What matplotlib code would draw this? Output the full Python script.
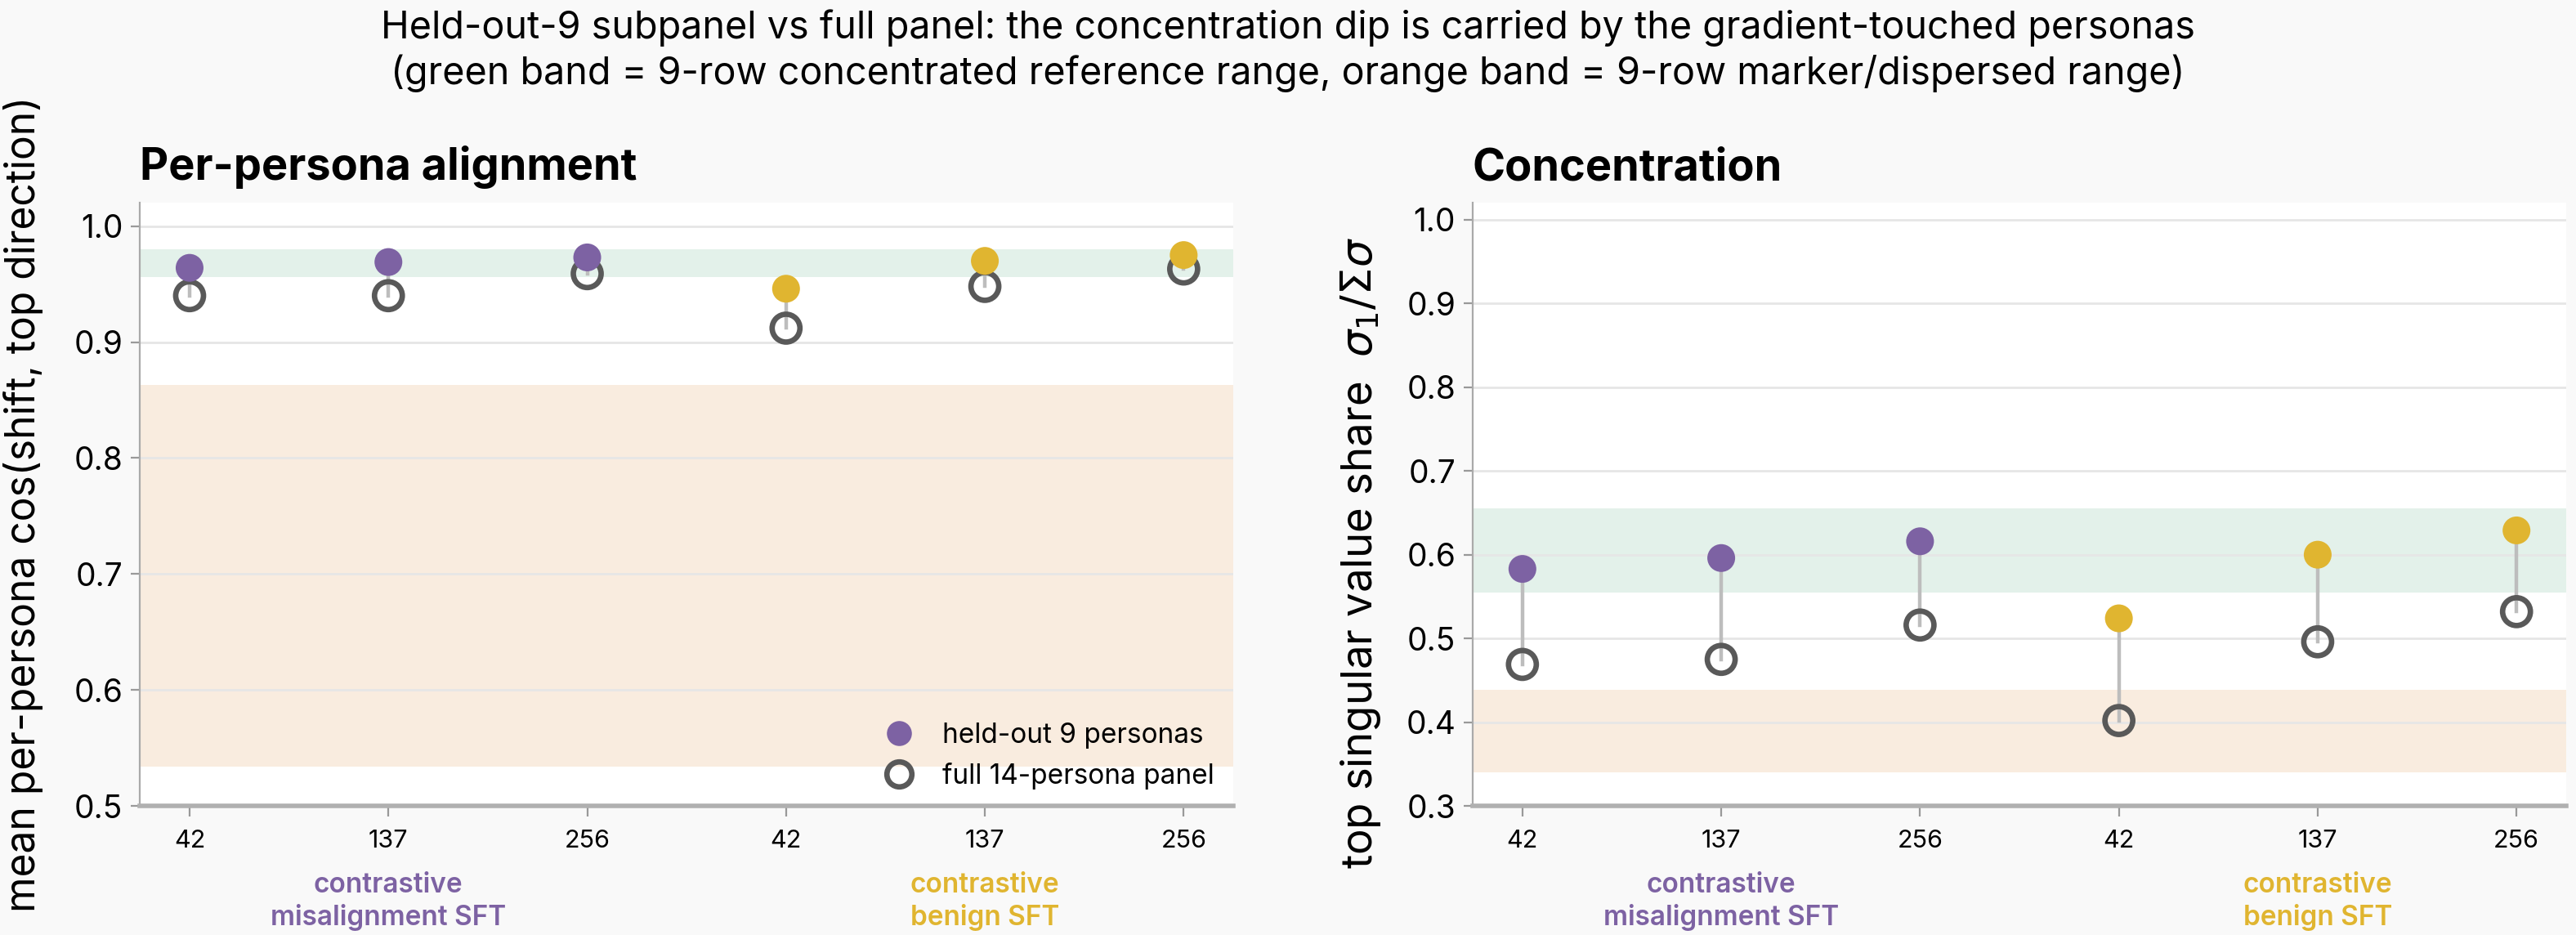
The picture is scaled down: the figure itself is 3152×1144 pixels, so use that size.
import matplotlib
matplotlib.use("Agg")
import matplotlib.pyplot as plt
import matplotlib.transforms as mtransforms
from matplotlib.lines import Line2D

plt.rcParams['font.family'] = ['Inter', 'DejaVu Sans']
plt.rcParams['mathtext.fontset'] = 'dejavusans'

# data
seeds = ['42', '137', '256', '42', '137', '256']
groups = ['contrastive\nmisalignment SFT', 'contrastive\nbenign SFT']
group_center = [1, 4]
point_group = [0, 0, 0, 1, 1, 1]

align_heldout = [0.964, 0.969, 0.973, 0.946, 0.970, 0.975]
align_full = [0.940, 0.940, 0.959, 0.912, 0.948, 0.963]
conc_heldout = [0.583, 0.596, 0.616, 0.524, 0.600, 0.629]
conc_full = [0.469, 0.475, 0.516, 0.402, 0.496, 0.532]

align_green = (0.956, 0.980)
align_orange = (0.534, 0.863)
conc_green = (0.555, 0.655)
conc_orange = (0.340, 0.439)

group_colors = ['#7d62a3', '#e0b530']
bg = '#f9f9f9'

fig = plt.figure(figsize=(15.76, 5.72), dpi=200, facecolor=bg)
ax1 = fig.add_axes([0.0543, 0.138, 0.4245, 0.645])
ax2 = fig.add_axes([0.5717, 0.138, 0.4245, 0.645])


def draw_panel(ax, held, full, green, orange, ylim, title, ylabel, label_size):
    ax.set_facecolor('white')
    ax.axhspan(green[0], green[1], color='#e3f1ea', zorder=0, lw=0)
    ax.axhspan(orange[0], orange[1], color='#f9ecdf', zorder=0, lw=0)
    ax.grid(axis='y', color='#e6e6e6', lw=1.0, zorder=0.5)
    ax.set_axisbelow(True)
    x = list(range(len(seeds)))
    for i in x:
        ax.plot([i, i], [held[i], full[i]], color='#bdbdbd', lw=1.6, zorder=2)
    cols = [group_colors[g] for g in point_group]
    ax.scatter(x, held, s=150, c=cols, edgecolors='none', zorder=4)
    ax.scatter(x, full, s=150, facecolors='none', edgecolors='#595959',
               linewidths=2.4, zorder=3)
    ax.set_xlim(-0.25, 5.25)
    ax.set_ylim(*ylim)
    ax.set_xticks(x)
    ax.set_xticklabels(seeds, fontsize=11)
    ax.tick_params(axis='x', length=4.5, color='#999999', pad=6)
    ax.tick_params(axis='y', labelsize=14, length=4, color='#999999')
    for s in ['top', 'right']:
        ax.spines[s].set_visible(False)
    ax.spines['left'].set_color('#aaaaaa')
    ax.spines['bottom'].set_color('#b0b0b0')
    ax.spines['bottom'].set_linewidth(2.0)
    ax.set_title(title, loc='left', fontsize=19.5, fontweight='bold', pad=10)
    ax.set_ylabel(ylabel, fontsize=label_size)
    trans = mtransforms.blended_transform_factory(ax.transData, ax.transAxes)
    for g, label in enumerate(groups):
        ax.text(group_center[g], -0.11, label, transform=trans, ha='center',
                va='top', fontsize=12, fontweight='semibold',
                color=group_colors[g], linespacing=1.25)


draw_panel(ax1, align_heldout, align_full, align_green, align_orange,
           (0.5, 1.02), 'Per-persona alignment',
           'mean per-persona cos(shift, top direction)', 17.9)
ax1.set_yticks([0.5, 0.6, 0.7, 0.8, 0.9, 1.0])
ax1.yaxis.set_label_coords(-0.088, 0.5)

draw_panel(ax2, conc_heldout, conc_full, conc_green, conc_orange,
           (0.3, 1.02), 'Concentration',
           r'top singular value share  $\sigma_1/\Sigma\sigma$', 19.0)
ax2.set_yticks([0.3, 0.4, 0.5, 0.6, 0.7, 0.8, 0.9, 1.0])
ax2.yaxis.set_label_coords(-0.082, 0.42)

handles = [
    Line2D([], [], ls='none', marker='o', markersize=11,
           markerfacecolor=group_colors[0], markeredgecolor='none'),
    Line2D([], [], ls='none', marker='o', markersize=11,
           markerfacecolor='none', markeredgecolor='#595959', markeredgewidth=2.4),
]
ax1.legend(handles, ['held-out 9 personas', 'full 14-persona panel'],
           loc='lower right', frameon=False, fontsize=12, handletextpad=0.6,
           borderaxespad=0.3, bbox_to_anchor=(1.0, -0.004))

fig.suptitle('Held-out-9 subpanel vs full panel: the concentration dip is carried by the gradient-touched personas\n'
             '(green band = 9-row concentrated reference range, orange band = 9-row marker/dispersed range)',
             fontsize=16.8, y=0.99, linespacing=1.25)

fig.savefig('out.png', dpi=200, facecolor=bg)
